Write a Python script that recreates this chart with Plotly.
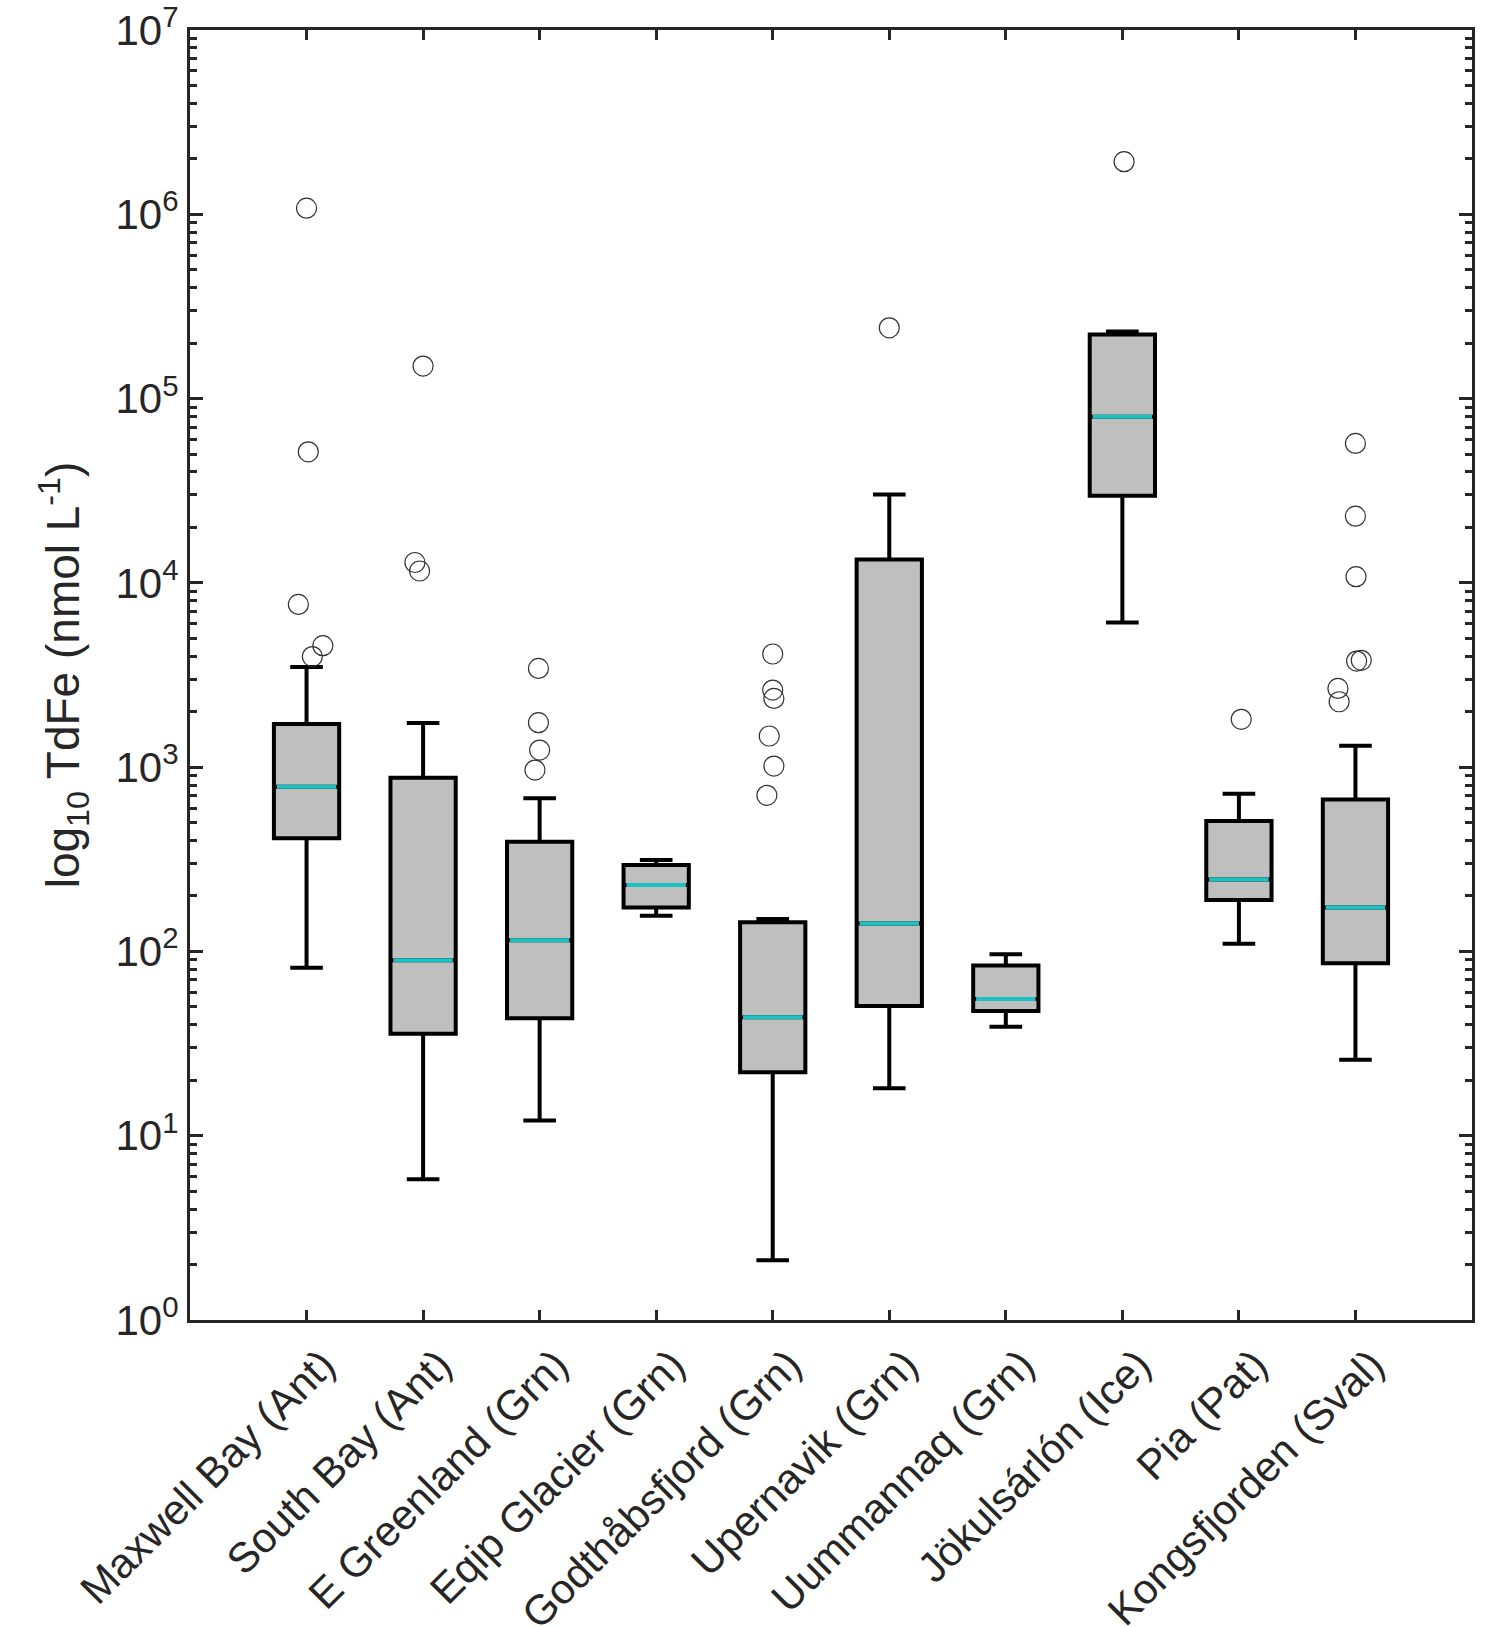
import plotly.graph_objects as go

# ---- data ----
sites = ["Maxwell Bay (Ant)", "South Bay (Ant)", "E Greenland (Grn)", "Eqip Glacier (Grn)",
         "Godthåbsfjord (Grn)", "Upernavik (Grn)", "Uummannaq (Grn)", "Jökulsárlón (Ice)",
         "Pia (Pat)", "Kongsfjorden (Sval)"]
q1 = [411, 35.7, 43.4, 173, 22.1, 50.6, 47.5, 2.97e4, 190, 86.2]
median = [783, 89.5, 115, 229, 43.9, 141.6, 55.2, 7.96e4, 246, 173]
q3 = [1714, 877, 394, 294, 144, 1.34e4, 83.8, 2.23e5, 510, 668]
lower_whisker = [81.6, 5.8, 12.1, 156, 2.11, 18.1, 39.0, 6.1e3, 110, 25.8]
upper_whisker = [3500, 1735, 677, 313, 150, 3.02e4, 96.4, 2.31e5, 718, 1306]

# outliers: site index (0-based), value, horizontal jitter (category units)
outlier_site = [0, 0, 0, 0, 0,
                1, 1, 1,
                2, 2, 2, 2,
                4, 4, 4, 4, 4, 4,
                5,
                7,
                8,
                9, 9, 9, 9, 9, 9, 9]
outlier_value = [1.08e6, 5.14e4, 7.64e3, 4.56e3, 3.98e3,
                 1.5e5, 1.29e4, 1.16e4,
                 3435, 1742, 1238, 964,
                 4110, 2620, 2360, 1476, 1014, 703,
                 2.42e5,
                 1.93e6,
                 1817,
                 5.71e4, 2.3e4, 1.08e4, 3764, 3800, 2675, 2264]
outlier_jitter = [0.0, 0.015, -0.07, 0.14, 0.05,
                  0.0, -0.07, -0.03,
                  -0.01, -0.01, 0.0, -0.04,
                  0.0, 0.0, 0.01, -0.03, 0.01, -0.05,
                  0.0,
                  0.015,
                  0.02,
                  0.0, 0.0, 0.005, 0.01, 0.05, -0.15, -0.14]

# ---- figure ----
positions = list(range(1, len(sites) + 1))
BOX_W = 0.56
FONT = "Liberation Sans, Arial, Helvetica, sans-serif"
INK = "#262626"
TICK_SIZE = 42
TITLE_SIZE = 46

fig = go.Figure()
fig.add_trace(go.Box(
    x=positions, q1=q1, median=median, q3=q3,
    lowerfence=lower_whisker, upperfence=upper_whisker,
    width=BOX_W, whiskerwidth=0.5,
    fillcolor="#bfbfbf", line=dict(color="black", width=4),
    boxpoints=False, hoverinfo="skip", showlegend=False,
))

# cyan medians
mx, my = [], []
half = BOX_W / 2 - 0.025
for p, m in zip(positions, median):
    mx += [p - half, p + half, None]
    my += [m, m, None]
fig.add_trace(go.Scatter(x=mx, y=my, mode="lines",
                         line=dict(color="#1cc2c2", width=4),
                         hoverinfo="skip", showlegend=False))

# outliers
ox = [positions[s] + j for s, j in zip(outlier_site, outlier_jitter)]
fig.add_trace(go.Scatter(x=ox, y=outlier_value, mode="markers",
                         marker=dict(symbol="circle-open", size=20, color="#333333",
                                     line=dict(color="#333333", width=1.2)),
                         hoverinfo="skip", showlegend=False))

minor_vals = [m * 10 ** k for k in range(0, 7) for m in range(2, 10)]

fig.update_layout(
    width=1500, height=1627,
    margin=dict(l=190, r=28, t=30, b=307, autoexpand=False),
    paper_bgcolor="white", plot_bgcolor="white",
    font=dict(family=FONT, size=TICK_SIZE, color=INK),
    showlegend=False,
)
fig.update_xaxes(
    range=[0, 11], tickmode="array", tickvals=positions, ticktext=sites,
    tickangle=-45, ticks="inside", ticklen=10, tickwidth=2.5, tickcolor=INK,
    ticklabelshift=16,
    showline=True, linewidth=3, linecolor=INK, mirror="ticks",
    showgrid=False, zeroline=False, automargin=False,
    tickfont=dict(family=FONT, size=TICK_SIZE, color=INK),
)
fig.update_yaxes(
    type="log", range=[0, 7],
    tickmode="array", tickvals=[10 ** k for k in range(8)],
    ticktext=[f"10<sup>{k}</sup>" for k in range(8)],
    ticks="inside", ticklen=13, tickwidth=2.5, tickcolor=INK,
    minor=dict(tickmode="array", tickvals=minor_vals, ticks="inside",
               ticklen=7, tickwidth=2.5, tickcolor=INK, showgrid=False),
    showline=True, linewidth=3, linecolor=INK, mirror="ticks",
    showgrid=False, zeroline=False, automargin=False,
    tickfont=dict(family=FONT, size=TICK_SIZE, color=INK),
    title=dict(text="log<sub>10</sub> TdFe (nmol L<sup>-1</sup>)",
               font=dict(family=FONT, size=TITLE_SIZE, color=INK), standoff=22),
)

fig.write_html("out.html")
